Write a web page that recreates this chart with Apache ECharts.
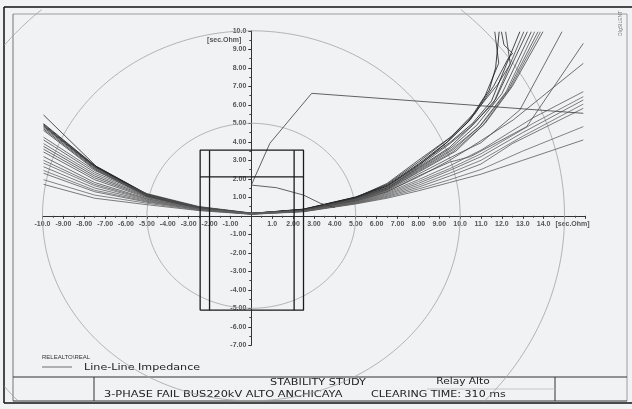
<!DOCTYPE html>
<html>
<head>
<meta charset="utf-8">
<script src="https://cdn.jsdelivr.net/npm/echarts@6/dist/echarts.min.js"></script>
<style>
  html, body { margin: 0; padding: 0; background: #f1f2f4; }
  #chart { width: 632px; height: 409px; }
</style>
</head>
<body>
<div id="chart"></div>
<script>
// Axis tick labels (R axis from -10 to 16, X axis from -7 to 10, step 1)
const xTickLabels = ['-10.0','-9.00','-8.00','-7.00','-6.00','-5.00','-4.00','-3.00','-2.00','-1.00','',
  '1.0','2.00','3.00','4.00','5.00','6.00','7.00','8.00','9.00','10.0','11.0','12.0','13.0','14.0','[sec.Ohm]',''];
const yTickLabels = ['-7.00','-6.00','-5.00','-4.00','-3.00','-2.00','-1.00','',
  '1.00','2.00','3.00','4.00','5.00','6.00','7.00','8.00','9.00','10.0'];

// Reference circles (radius in sec. Ohm)
const circleRadii = [5, 10, 15];

// Quadrilateral relay zones
const zoneOuterR = [-2.45, 2.5];
const zoneInnerR = [-2.0, 2.05];
const zoneTopX = 3.55;
const zoneReachX = 2.1;
const zoneBottomX = -5.1;

// Load point, fault and post-fault path
const faultPath = [[15.9,5.54],[2.89,6.62],[0.89,3.92],[0,1.66],[1.2,1.52],[2.5,1.12],[3.3,0.68],[4.0,0.45]];

// Line-line impedance loci leaving through the top of the diagram
const lociSteep = [
  [[-9.95,5.45],[-7.4,2.65],[-5,1.15],[-2.5,0.44],[0,0.12],[2.5,0.35],[5,1.0],[6.5,1.6],[8,2.7],[9.3,3.9],[10.4,5.1],[11.2,6.5],[11.85,8.25],[11.66,9.95]],
  [[-9.95,4.98],[-7.5,2.72],[-5,1.18],[-2.5,0.46],[0,0.13],[2.5,0.36],[5,1.02],[6.5,1.65],[8,2.8],[9.4,4.0],[10.5,5.2],[11.4,6.8],[11.7,8.0],[11.87,9.95]],
  [[-9.95,4.93],[-7.5,2.7],[-5,1.16],[-2.5,0.45],[0,0.12],[2.5,0.35],[5,1.0],[6.5,1.7],[8,2.9],[9.5,4.2],[10.7,5.5],[11.6,7.0],[12.3,8.5],[12.51,8.78],[12.1,9.24],[11.98,9.95]],
  [[-9.95,4.88],[-7.5,2.67],[-5,1.14],[-2.5,0.44],[0,0.12],[2.5,0.34],[5,0.98],[6.5,1.75],[8,3.0],[9.6,4.3],[10.8,5.7],[11.8,7.1],[12.4,8.2],[12.18,9.95]],
  [[-9.95,4.84],[-7.5,2.64],[-5,1.12],[-2.5,0.42],[0,0.11],[2.5,0.33],[5,0.96],[6.5,1.6],[8,2.75],[9.5,3.95],[10.6,5.0],[11.5,6.2],[12.86,9.95]],
  [[-9.95,4.78],[-7.5,2.6],[-5,1.1],[-2.5,0.41],[0,0.11],[2.5,0.32],[5,0.95],[6.5,1.55],[8,2.65],[9.4,3.8],[10.5,4.8],[11.6,6.1],[13.05,9.95]],
  [[-9.95,4.70],[-7.5,2.55],[-5,1.08],[-2.5,0.4],[0,0.1],[2.5,0.31],[5,0.93],[6.5,1.5],[8,2.6],[9.5,3.7],[10.6,4.9],[11.7,6.3],[13.22,9.95]],
  [[-9.95,4.62],[-7.5,2.5],[-5,1.05],[-2.5,0.39],[0,0.1],[2.5,0.3],[5,0.92],[6.5,1.5],[8,2.55],[9.6,3.7],[10.8,4.9],[12.0,6.6],[13.41,9.95]],
  [[-9.95,4.25],[-7.5,2.45],[-5,1.2],[-2.5,0.5],[0,0.15],[2.5,0.3],[5,0.9],[6.5,1.45],[8,2.5],[9.6,3.6],[10.9,4.8],[12.2,6.7],[13.57,9.95]],
  [[-9.95,4.10],[-7.5,2.35],[-5,1.15],[-2.5,0.48],[0,0.14],[2.5,0.3],[5,0.88],[6.5,1.45],[8,2.45],[9.7,3.6],[11.0,4.9],[12.3,6.8],[13.73,9.95]],
  [[-9.95,3.90],[-7.5,2.25],[-5,1.1],[-2.5,0.47],[0,0.14],[2.5,0.29],[5,0.86],[6.5,1.4],[8,2.4],[9.7,3.5],[11.1,4.9],[12.4,6.9],[13.85,9.95]],
  [[-9.95,3.75],[-7.5,2.15],[-5,1.06],[-2.5,0.46],[0,0.13],[2.5,0.28],[5,0.84],[6.5,1.4],[8,2.35],[9.8,3.5],[11.2,5.0],[12.5,7.0],[13.97,9.95]]
];

// Loci with a kink before leaving through the right edge
const lociFlank = [
  [[-9.95,3.60],[-7.5,2.05],[-5,1.02],[-2.5,0.44],[0,0.13],[2.5,0.28],[5,0.82],[6.5,1.35],[8,2.25],[9.8,3.3],[11.0,3.95],[12.86,5.72],[14.88,9.95]],
  [[-9.95,3.45],[-7.5,1.95],[-5,0.98],[-2.5,0.42],[0,0.12],[2.5,0.27],[5,0.8],[6.5,1.3],[8,2.15],[9.5,2.9],[10.5,3.2],[13.19,4.82],[15.9,9.32]],
  [[-9.95,3.20],[-7.5,1.8],[-5,0.93],[-2.5,0.4],[0,0.12],[2.5,0.26],[5,0.78],[6.5,1.3],[8,2.1],[9.5,3.0],[10.5,3.7],[12.54,5.18],[15.9,8.24]]
];

// Flatter loci leaving through the right edge
const lociShallow = [
  [[-9.95,3.00],[-7.5,1.7],[-5,0.9],[-2.5,0.38],[0,0.11],[2.5,0.26],[5,0.76],[6.5,1.25],[8,1.95],[9.5,2.7],[11,3.55],[13.5,5.3],[15.9,6.71]],
  [[-9.95,2.85],[-7.5,1.62],[-5,0.86],[-2.5,0.37],[0,0.11],[2.5,0.25],[5,0.74],[6.5,1.2],[8,1.85],[9.5,2.55],[11,3.35],[13.5,5.0],[15.9,6.44]],
  [[-9.95,2.65],[-7.5,1.5],[-5,0.82],[-2.5,0.36],[0,0.1],[2.5,0.25],[5,0.72],[6.5,1.15],[8,1.75],[9.5,2.45],[11,3.2],[13,4.5],[15.9,6.26]],
  [[-9.95,2.45],[-7.5,1.38],[-5,0.78],[-2.5,0.34],[0,0.1],[2.5,0.24],[5,0.7],[6.5,1.1],[8,1.65],[9.5,2.3],[11,3.0],[13,4.3],[15.9,6.04]],
  [[-9.95,2.30],[-7.5,1.3],[-5,0.74],[-2.5,0.33],[0,0.09],[2.5,0.24],[5,0.68],[6.5,1.05],[8,1.55],[9.5,2.15],[11,2.8],[12.5,3.9],[15.9,5.81]],
  [[-9.95,1.95],[-7.5,1.12],[-5,0.68],[-2.5,0.3],[0,0.09],[2.5,0.23],[5,0.66],[6.5,1.0],[8,1.45],[9.5,1.95],[11,2.5],[13,3.5],[15.9,4.82]],
  [[-9.95,1.70],[-7.5,0.95],[-5,0.6],[-2.5,0.28],[0,0.08],[2.5,0.22],[5,0.64],[6.5,0.95],[8,1.35],[9.5,1.8],[11,2.25],[13,3.0],[15.9,4.1]]
];

// Page layout (pixels)
const GRID = { left: 42.5, top: 30.8, width: 542.9, height: 314.5 };
const X_RANGE = [-10, 16];
const Y_RANGE = [-7, 10];
const FRAME = { x0: 4, y0: 7, x1: 632, y1: 403 };
const INNER = { x0: 13, y0: 14, x1: 627, y1: 401 };
const FOOT = { top: 377, mid: 389, split1: 94, split2: 555, relayL: 427 };

// axes cross at the origin: shift them from the grid edges onto zero
const zeroX = GRID.left + GRID.width * (0 - X_RANGE[0]) / (X_RANGE[1] - X_RANGE[0]);
const zeroY = GRID.top + GRID.height * (Y_RANGE[1] - 0) / (Y_RANGE[1] - Y_RANGE[0]);
const xAxisOffset = -(GRID.top + GRID.height - zeroY);
const yAxisOffset = -(zeroX - GRID.left);

const chart = echarts.init(document.getElementById('chart'), null, { renderer: 'canvas' });

const font = 'Liberation Sans, Arial, sans-serif';
const wideFont = 'DejaVu Sans, Verdana, sans-serif';
const lineSeries = (pts, color, width, z) => ({
  type: 'line', data: pts, showSymbol: false, symbol: 'none', silent: true,
  lineStyle: { color: color, width: width }, z: z, animation: false
});

const series = [];

// reference circles, clipped to the page frame
series.push({
  type: 'custom', coordinateSystem: 'cartesian2d', clip: false, silent: true, z: 1,
  data: circleRadii.map(r => [r]),
  renderItem: function (params, api) {
    const r = api.value(0);
    const pieces = [];
    let cur = [];
    for (let a = 0; a <= 360; a += 1) {
      const t = a * Math.PI / 180;
      const p = api.coord([r * Math.cos(t), r * Math.sin(t)]);
      const inside = p[0] >= FRAME.x0 && p[0] <= FRAME.x1 && p[1] >= FRAME.y0 && p[1] <= FRAME.y1;
      if (inside) { cur.push(p); }
      else { if (cur.length > 1) pieces.push(cur); cur = []; }
    }
    if (cur.length > 1) pieces.push(cur);
    return {
      type: 'group',
      children: pieces.map(pts => ({
        type: 'polyline', shape: { points: pts },
        style: { stroke: '#a2a2a2', lineWidth: 0.8, fill: null }
      }))
    };
  }
});

// relay zones
const [oL, oR] = zoneOuterR;
const [iL, iR] = zoneInnerR;
series.push(lineSeries([[oL, zoneBottomX],[oL, zoneTopX],[oR, zoneTopX],[oR, zoneBottomX],[oL, zoneBottomX]], '#1a1a1a', 1.3, 5));
series.push(lineSeries([[iL, zoneBottomX],[iL, zoneTopX]], '#1a1a1a', 1.3, 5));
series.push(lineSeries([[iR, zoneBottomX],[iR, zoneTopX]], '#1a1a1a', 1.3, 5));
series.push(lineSeries([[oL, zoneReachX],[oR, zoneReachX]], '#1a1a1a', 1.3, 5));

// impedance loci
const steepColors = ['#2a2a2a','#111','#222','#333','#1c1c1c','#444','#2e2e2e','#3a3a3a','#555','#4a4a4a','#5a5a5a','#444'];
lociSteep.forEach((pts, i) => series.push(lineSeries(pts, steepColors[i % steepColors.length], 0.8, 3)));
lociFlank.forEach(pts => series.push(lineSeries(pts, '#4d4d4d', 0.8, 3)));
lociShallow.forEach((pts, i) => series.push(lineSeries(pts, i % 2 ? '#666' : '#5a5a5a', 0.8, 3)));
series.push(lineSeries(faultPath, '#3c3c3c', 0.8, 4));

const tickStyle = { color: '#333', width: 1 };
const labelStyle = { margin: 5, fontSize: 7, color: '#555', fontFamily: font, fontWeight: 'bold',
  showMinLabel: true, showMaxLabel: true, hideOverlap: false };

const option = {
  backgroundColor: '#f1f2f4',
  animation: false,
  grid: Object.assign({ containLabel: false, outerBoundsMode: 'none' }, GRID),
  xAxis: {
    type: 'value', min: X_RANGE[0], max: X_RANGE[1], interval: 1,
    position: 'bottom', offset: xAxisOffset,
    axisLine: { onZero: false, lineStyle: { color: '#333', width: 1 } },
    axisTick: { show: true, length: 3, lineStyle: tickStyle },
    minorTick: { show: true, splitNumber: 2, length: 2, lineStyle: { color: '#444', width: 1 } },
    splitLine: { show: false },
    axisLabel: Object.assign({}, labelStyle, {
      formatter: v => {
        const s = xTickLabels[Math.round(v) - X_RANGE[0]] || '';
        return s.charAt(0) === '[' ? '{u|' + s + '}' : s;
      },
      rich: { u: { fontSize: 7, color: '#555', fontFamily: font, fontWeight: 'bold', padding: [0, 0, 0, 16] } }
    })
  },
  yAxis: {
    type: 'value', min: Y_RANGE[0], max: Y_RANGE[1], interval: 1,
    position: 'left', offset: yAxisOffset,
    axisLine: { onZero: false, lineStyle: { color: '#333', width: 1 } },
    axisTick: { show: true, length: 3, lineStyle: tickStyle },
    minorTick: { show: true, splitNumber: 2, length: 2, lineStyle: { color: '#444', width: 1 } },
    splitLine: { show: false },
    axisLabel: Object.assign({}, labelStyle, {
      formatter: v => yTickLabels[Math.round(v) - Y_RANGE[0]] || ''
    })
  },
  series: series
};
chart.setOption(option);

// unit label of the X axis, placed just under the top tick
const unitPos = chart.convertToPixel({ xAxisIndex: 0, yAxisIndex: 0 }, [0, 9.5]);

// text in the title block uses a slightly stretched, wide face
const txt = (x, y, text, size, extra, stretch) => ({
  type: 'text', x: x, y: y, silent: true, scaleX: stretch || 1,
  style: Object.assign({ text: text, fontSize: size, fontFamily: wideFont, fill: '#222', textVerticalAlign: 'middle' }, extra || {})
});
const seg = (x1, y1, x2, y2, stroke, w) => ({
  type: 'line', silent: true, shape: { x1: x1, y1: y1, x2: x2, y2: y2 },
  style: { stroke: stroke, lineWidth: w }
});

chart.setOption({
  graphic: [
    txt(unitPos[0] - 10, unitPos[1], '[sec.Ohm]', 7, { fill: '#555', fontWeight: 'bold', fontFamily: font, textAlign: 'right' }),
    // page frame
    seg(FRAME.x0, FRAME.y0, FRAME.x1, FRAME.y0, '#111', 1.5),
    seg(FRAME.x0, FRAME.y0, FRAME.x0, FRAME.y1, '#111', 1.5),
    seg(FRAME.x0, FRAME.y1, FRAME.x1, FRAME.y1, '#111', 1.5),
    seg(INNER.x0, INNER.y0, INNER.x1, INNER.y0, '#888', 0.8),
    seg(INNER.x0, INNER.y0, INNER.x0, INNER.y1, '#555', 0.8),
    seg(INNER.x1, INNER.y0, INNER.x1, INNER.y1, '#888', 0.8),
    // title block
    seg(INNER.x0, FOOT.top, INNER.x1, FOOT.top, '#333', 1),
    seg(FOOT.split1, FOOT.top, FOOT.split1, INNER.y1, '#333', 1),
    seg(FOOT.split2, FOOT.top, FOOT.split2, INNER.y1, '#333', 1),
    seg(FOOT.relayL, FOOT.mid, FOOT.split2, FOOT.mid, '#bbb', 0.8),
    seg(INNER.x0, INNER.y1, INNER.x1, INNER.y1, '#333', 1),
    txt(318, 382.5, 'STABILITY STUDY', 9, { textAlign: 'center' }, 1.25),
    txt(104, 395, '3-PHASE FAIL BUS220kV ALTO ANCHICAYA', 9.3, null, 1.22),
    txt(463, 381.5, 'Relay Alto', 8.5, { textAlign: 'center' }, 1.25),
    txt(371, 395, 'CLEARING TIME: 310 ms', 9.3, null, 1.19),
    // legend
    txt(42, 357, 'RELEALTO\\REAL', 6, { fill: '#333', fontFamily: font }),
    seg(42, 367, 72, 367, '#9a9a9a', 1.5),
    txt(84, 368, 'Line-Line Impedance', 9.3, { fill: '#222' }, 1.2),
    // software tag
    { type: 'text', x: 621, y: 36, rotation: Math.PI / 2, silent: true,
      style: { text: 'DIgSILENT', fontSize: 5, fontFamily: font, fill: '#777', textVerticalAlign: 'middle' } }
  ]
});
</script>
</body>
</html>
